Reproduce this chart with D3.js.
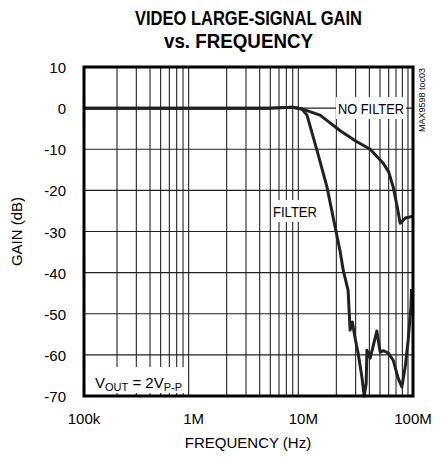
<!DOCTYPE html>
<html>
<head>
<meta charset="utf-8">
<script src="https://cdn.jsdelivr.net/npm/d3@7"></script>
<style>
  body { margin: 0; background: #fff; }
  text { font-family: "Liberation Sans Narrow", "Liberation Sans", Arial, sans-serif; }
</style>
</head>
<body>
<svg id="chart" width="443" height="457"></svg>
<script>
// frequency (Hz) / gain (dB)
var noFilterFreq = [1e5, 1e6, 5e6, 8e6, 9.7e6, 14.2e6, 21.7e6, 30e6, 40.7e6, 53.5e6, 60e6, 66e6, 71.8e6, 76.4e6, 80e6, 84.9e6, 100e6]
var noFilterGain = [0, 0, 0, 0.2, -0.2, -1.7, -5.5, -8, -10, -13.4, -15.5, -19.2, -24, -28, -27.5, -26.7, -26.3]

var filterFreq = [1e5, 1e6, 5e6, 8e6, 9.7e6, 10.8e6, 13.3e6, 16.4e6, 19.5e6, 21.7e6, 23.1e6, 25.6e6, 26.7e6, 28e6, 29.7e6, 31.6e6, 34.2e6, 35.9e6, 37.4e6, 38e6, 40.7e6, 46.8e6, 50.2e6, 54e6, 59.8e6, 66e6, 73.3e6, 79.2e6, 84.9e6, 90.4e6, 95.7e6, 97e6]
var filterGain = [0, 0, 0, 0.2, -0.2, -1.7, -10.2, -19.1, -28.9, -35, -39.4, -44.3, -54, -52, -56, -59.6, -65.4, -70, -67, -58.9, -60.8, -54.2, -59.3, -59, -59.6, -61.3, -65.7, -67.8, -62.9, -56.4, -48.3, -44]

var yTicks = [10, 0, -10, -20, -30, -40, -50, -60, -70]
var xTicks = [1e5, 1e6, 1e7, 1e8]
var xTickLabels = ["100k", "1M", "10M", "100M"]

var svg = d3.select("#chart")
var pL = 84, pR = 413, pT = 67, pB = 396

var x = d3.scaleLog().domain([1e5, 1e8]).range([pL, pR])
var y = d3.scaleLinear().domain([-70, 10]).range([pB, pT])

// title (condensed bold look)
svg.append("text").attr("x", 135).attr("y", 25)
    .attr("font-size", "20px").attr("font-weight", "bold")
    .attr("textLength", 227).attr("lengthAdjust", "spacingAndGlyphs")
    .text("VIDEO LARGE-SIGNAL GAIN")
svg.append("text").attr("x", 164).attr("y", 48)
    .attr("font-size", "20px").attr("font-weight", "bold")
    .attr("textLength", 149).attr("lengthAdjust", "spacingAndGlyphs")
    .text("vs. FREQUENCY")

// grid
var minor = []
for (var d = 5; d < 8; d++)
    for (var k = 2; k <= 9; k++) minor.push(k * Math.pow(10, d))

svg.append("g").selectAll("line").data(minor).enter().append("line")
    .attr("x1", function (d) { return x(d) }).attr("x2", function (d) { return x(d) })
    .attr("y1", pT).attr("y2", pB)
    .attr("stroke", "#222").attr("stroke-width", 1.1)
svg.append("g").selectAll("line").data(yTicks.slice(1, -1)).enter().append("line")
    .attr("x1", pL).attr("x2", pR)
    .attr("y1", function (d) { return y(d) }).attr("y2", function (d) { return y(d) })
    .attr("stroke", "#222").attr("stroke-width", 1.1)

// tick labels
svg.append("g").selectAll("text").data(yTicks).enter().append("text")
    .attr("x", 66).attr("y", function (d) { return y(d) + 6 })
    .attr("text-anchor", "end").attr("font-size", "15px").text(function (d) { return d })
svg.append("g").selectAll("text").data(xTicks).enter().append("text")
    .attr("x", function (d) { return x(d) }).attr("y", 424)
    .attr("text-anchor", "middle").attr("font-size", "15px")
    .text(function (d, i) { return xTickLabels[i] })

svg.append("text").attr("x", 248).attr("y", 448).attr("text-anchor", "middle")
    .attr("font-size", "15px").text("FREQUENCY (Hz)")
svg.append("text").attr("transform", "translate(22," + y(-30) + ") rotate(-90)")
    .attr("text-anchor", "middle").attr("font-size", "15px").text("GAIN (dB)")

// curves
var line = d3.line().x(function (d) { return x(d[0]) }).y(function (d) { return y(d[1]) })
svg.append("path").datum(d3.zip(noFilterFreq, noFilterGain)).attr("d", line)
    .attr("fill", "none").attr("stroke", "#222").attr("stroke-width", 3).attr("stroke-linejoin", "round")
svg.append("path").datum(d3.zip(filterFreq, filterGain)).attr("d", line)
    .attr("fill", "none").attr("stroke", "#222").attr("stroke-width", 3).attr("stroke-linejoin", "round")

// frame
svg.append("rect").attr("x", pL).attr("y", pT).attr("width", pR - pL).attr("height", pB - pT)
    .attr("fill", "none").attr("stroke", "#000").attr("stroke-width", 3)

// annotations
function label(tx, ty, w, h) {
    svg.append("rect").attr("x", tx).attr("y", ty).attr("width", w).attr("height", h).attr("fill", "#fff")
    return svg.append("text").attr("x", tx + 2).attr("y", ty + h - 5).attr("font-size", "15px")
}
label(336, 97, 70, 22).text("NO FILTER").attr("textLength", 66).attr("lengthAdjust", "spacingAndGlyphs")
label(271, 200, 48, 22).text("FILTER").attr("textLength", 44).attr("lengthAdjust", "spacingAndGlyphs")
var v = label(93, 367, 91, 26)
v.append("tspan").text("V")
v.append("tspan").attr("font-size", "11px").attr("dy", 3).text("OUT")
v.append("tspan").attr("dy", -3).text(" = 2V")
v.append("tspan").attr("font-size", "11px").attr("dy", 3).text("P-P")

svg.append("text").attr("transform", "translate(425,68) rotate(-90)")
    .attr("text-anchor", "end").attr("font-size", "9px").text("MAX9598 toc03")
</script>
</body>
</html>
